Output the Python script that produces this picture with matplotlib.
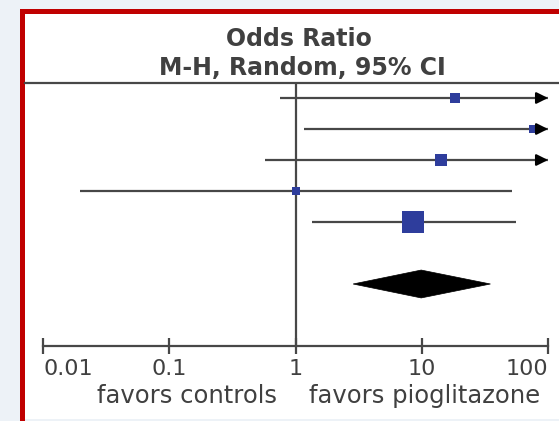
import numpy as np
import matplotlib.pyplot as plt
from matplotlib.patches import Rectangle, Polygon

# ── data (odds ratios) ──────────────────────────────────────────────────────
study_or = [18.2, 76.7, 14.3, 1.0, 8.6]
study_lo = [0.76, 1.16, 0.57, 0.0198, 1.34]
study_hi = [250.0, 1500.0, 400.0, 52.3, 55.3]      # >100 -> drawn as arrow
weights = [9.3, 7.4, 13.8, 9.2, 60.3]              # % weight -> box size
pooled = (9.9, 2.86, 35.0)                          # OR, lower, upper

tick_vals = [0.01, 0.1, 1, 10, 100]
tick_labels = ["0.01", "0.1", "1", "10", "100"]
title_lines = ["Odds Ratio", "M-H, Random, 95% CI"]
favor_left = "favors controls"
favor_right = "favors pioglitazone"

# ── style ───────────────────────────────────────────────────────────────────
W, H = 559, 421
TXT = "#404040"
LINE = "#474747"
BLUE = "#2e3d9c"
RED = "#c00000"

fig = plt.figure(figsize=(W / 100, H / 100), dpi=100)
fig.patch.set_facecolor("#edf2f7")


def px_rect(x0, y0, x1, y1, **kw):
    """rectangle in figure pixel coords (y measured from top)"""
    fig.add_artist(Rectangle((x0 / W, 1 - y1 / H), (x1 - x0) / W, (y1 - y0) / H,
                             transform=fig.transFigure, lw=0, zorder=-2, **kw))


px_rect(25, 14, W, 419, facecolor="white")
px_rect(20, 9, 25, H, facecolor=RED)
px_rect(20, 9, W, 14, facecolor=RED)

# axes covering the plot area: 0.01 at x=43 px, 100 at x=548 px
dec = (548 - 43) / 4
x_left, x_right = 25, W
xlim = (10 ** (-2 - (43 - x_left) / dec), 10 ** (2 + (x_right - 548) / dec))
row_px, row0 = 31, 98
y_top, y_bot = 83, H
ylim = ((y_bot - row0) / row_px, (y_top - row0) / row_px)

ax = fig.add_axes([x_left / W, 1 - y_bot / H, (x_right - x_left) / W, (y_bot - y_top) / H])
ax.set_zorder(5)
ax.set_facecolor("none")
ax.set_xscale("log")
ax.set_xlim(*xlim)
ax.set_ylim(*ylim)

# studies
x_max = tick_vals[-1]
for i, (o, lo, hi, w) in enumerate(zip(study_or, study_lo, study_hi, weights)):
    ax.plot([lo, min(hi, x_max)], [i, i], color=LINE, lw=1.6, solid_capstyle="butt")
    side = 23 * np.sqrt(w / max(weights))
    ax.plot(o, i, "s", ms=side * 0.72, color=BLUE, mec=BLUE, mew=0, zorder=3)
    if hi > x_max:
        # CI runs off the scale: black arrow head at the axis end
        ax.annotate("", xy=(x_max, i), xytext=(x_max / 1.2, i), zorder=4,
                    arrowprops=dict(arrowstyle="-|>", lw=1.6, mutation_scale=17,
                                    shrinkA=0, shrinkB=0, fc="black", ec="black"))

# pooled diamond
yd = len(study_or) + 1
o, lo, hi = pooled
ax.add_patch(Polygon([(lo, yd), (o, yd - 0.45), (hi, yd), (o, yd + 0.45)],
                     closed=True, fc="black", ec="black", lw=0.5))

# line of no effect
y_axis = yd + 2
ax.plot([1, 1], [ylim[1], y_axis], color=LINE, lw=1.6)

# spines / axis
for s in ["left", "right"]:
    ax.spines[s].set_visible(False)
ax.spines["top"].set_color(LINE)
ax.spines["top"].set_linewidth(1.6)
ax.spines["bottom"].set_position(("data", y_axis))
ax.spines["bottom"].set_bounds(0.01, 100)
ax.spines["bottom"].set_color(LINE)
ax.spines["bottom"].set_linewidth(1.6)
ax.set_yticks([])
ax.set_xticks(tick_vals)
ax.minorticks_off()
ax.tick_params(axis="x", direction="inout", length=11, width=1.6, color=LINE,
               labelbottom=False)

# tick labels: outer ones kept inside the axis span
y_lab = (375 - row0) / row_px
for k, (v, s) in enumerate(zip(tick_vals, tick_labels)):
    ha = "left" if k == 0 else ("right" if k == len(tick_vals) - 1 else "center")
    ax.text(v, y_lab, s, ha=ha, va="baseline", fontsize=16, color=TXT)

yf = (403 - row0) / row_px
ax.text(0.72, yf, favor_left, ha="right", va="baseline", fontsize=17.5, color=TXT)
ax.text(1.27, yf, favor_right, ha="left", va="baseline", fontsize=17.5, color=TXT)

# column header
fig.text(299 / W, 1 - 46.5 / H, title_lines[0], ha="center", va="baseline",
         fontsize=17, fontweight="bold", color=TXT)
fig.text(302 / W, 1 - 75 / H, title_lines[1], ha="center", va="baseline",
         fontsize=17, fontweight="bold", color=TXT)

fig.savefig("out.png", dpi=100)
